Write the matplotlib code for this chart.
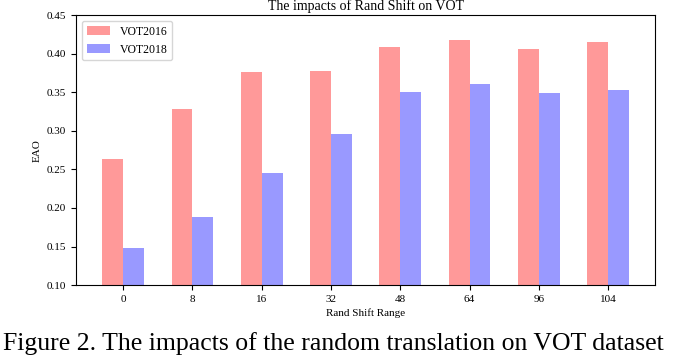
import numpy as np
import matplotlib
matplotlib.use("Agg")
import matplotlib.pyplot as plt

plt.rcParams['font.family'] = ['Liberation Serif', 'DejaVu Serif']

# data
shift_range = ['0', '8', '16', '32', '48', '64', '96', '104']
vot2016 = [0.263, 0.328, 0.376, 0.377, 0.409, 0.418, 0.406, 0.415]
vot2018 = [0.148, 0.188, 0.245, 0.296, 0.350, 0.361, 0.349, 0.353]

x = np.arange(len(shift_range))
w = 0.3

fig = plt.figure(figsize=(6.79, 3.6), dpi=100)
ax = fig.add_axes([0.112, 0.208, 0.853, 0.75])

ax.bar(x - w / 2, vot2016, w, color='r', alpha=0.4, label='VOT2016')
ax.bar(x + w / 2, vot2018, w, color='b', alpha=0.4, label='VOT2018')

ax.set_ylim(0.10, 0.45)
ax.set_xticks(x)
ax.set_xticklabels(shift_range)
ax.tick_params(labelsize=8)
ax.set_xlabel('Rand Shift Range', fontsize=8, labelpad=3)
ax.set_ylabel('EAO', fontsize=8)
ax.set_title('The impacts of Rand Shift on VOT', fontsize=10, pad=3.5)
ax.legend(loc='upper left', fontsize=8.5)

fig.text(0.004, 0.015, 'Figure 2. The impacts of the random translation on VOT dataset',
         fontsize=18.5, ha='left', va='bottom')

fig.savefig('out.png', dpi=100)
